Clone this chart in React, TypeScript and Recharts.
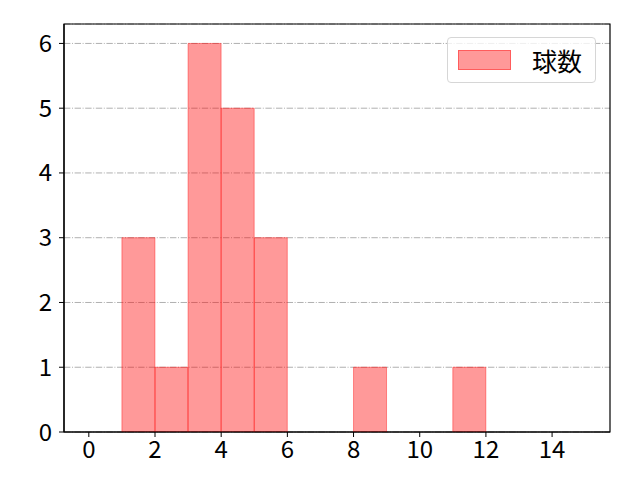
import { ComposedChart, Bar, XAxis, YAxis, CartesianGrid, ReferenceArea } from "recharts";

// histogram bins (left edge) and counts
const binStarts = [0, 1, 2, 3, 4, 5, 6, 7, 8, 9, 10, 11, 12, 13, 14];
const counts = [0, 3, 1, 6, 5, 3, 0, 0, 1, 0, 0, 1, 0, 0, 0];
const xTicks = [0, 2, 4, 6, 8, 10, 12, 14];
const yTicks = [0, 1, 2, 3, 4, 5, 6];
const xDomain = [-0.75, 15.75];
const yDomain = [0, 6.3];
const seriesName = "球数";

const data = binStarts.map((start, i) => ({ x: start + 0.5, count: counts[i] }));

const FONT = "'Noto Sans CJK JP', 'Noto Sans', sans-serif";
const tickStyle = { fill: "#000", fontSize: 24, fontFamily: FONT, style: { fontSize: 24, fontFamily: FONT } };

function HistLegend() {
  return (
    <div
      style={{
        position: "absolute",
        left: 447,
        top: 37,
        display: "flex",
        alignItems: "center",
        width: 147,
        height: 44,
        border: "1px solid #d6d6d6",
        borderRadius: 4,
        background: "rgba(255,255,255,0.8)",
        fontFamily: FONT,
        fontSize: 25,
        color: "#000",
      }}
    >
      <span
        style={{
          display: "inline-block",
          width: 53,
          height: 20,
          marginLeft: 10,
          background: "rgba(255,0,0,0.4)",
          border: "1px solid rgba(255,0,0,0.4)",
          boxSizing: "border-box",
        }}
      />
      <span style={{ marginLeft: 21 }}>{seriesName}</span>
    </div>
  );
}

export default function App() {
  return (
    <div style={{ position: "absolute", left: 0, top: 0, width: 640, height: 480, background: "#fff", fontFamily: FONT }}>
      <ComposedChart
        width={640}
        height={480}
        data={data}
        margin={{ top: 24, right: 30, left: 0, bottom: 0 }}
        barCategoryGap={0}
        barGap={0}
        style={{ fontSize: 24, fontFamily: FONT }}
      >
        <CartesianGrid
          vertical={false}
          stroke="#b0b0b0"
          strokeDasharray="6.4 1.6 1 1.6"
          strokeWidth={1}
        />
        <XAxis
          dataKey="x"
          type="number"
          domain={xDomain}
          ticks={xTicks}
          allowDataOverflow
          height={48}
          tickSize={5}
          tickMargin={4}
          axisLine={{ stroke: "#000", strokeWidth: 1.2 }}
          tickLine={{ stroke: "#000" }}
          tick={tickStyle}
        />
        <YAxis
          type="number"
          domain={yDomain}
          ticks={yTicks}
          allowDataOverflow
          width={64}
          tickSize={5}
          tickMargin={7}
          axisLine={{ stroke: "#000", strokeWidth: 1.2 }}
          tickLine={{ stroke: "#000" }}
          tick={tickStyle}
        />
        <Bar
          dataKey="count"
          name={seriesName}
          fill="#ff0000"
          fillOpacity={0.4}
          stroke="#ff0000"
          strokeOpacity={0.4}
          strokeWidth={1}
          isAnimationActive={false}
        />
        {/* axes frame */}
        <ReferenceArea
          x1={xDomain[0]}
          x2={xDomain[1]}
          y1={yDomain[0]}
          y2={yDomain[1]}
          fill="none"
          fillOpacity={0}
          stroke="#000"
          strokeWidth={1.2}
          strokeOpacity={1}
          ifOverflow="visible"
        />
      </ComposedChart>
      <HistLegend />
    </div>
  );
}
